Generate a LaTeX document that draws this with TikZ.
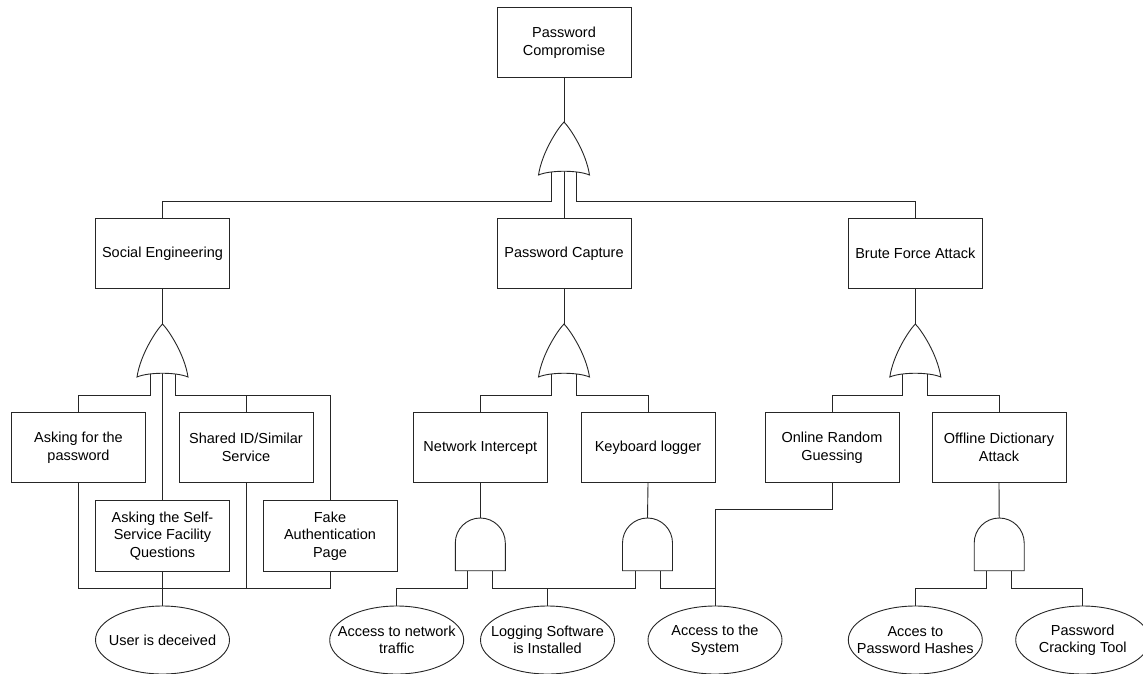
\documentclass[tikz,border=0pt]{standalone}
\usepackage{fontspec}
\setmainfont{Liberation Sans}
\usetikzlibrary{shapes.geometric,calc}
\newcommand\diagfont{\fontsize{14.5}{17.5}\selectfont}
\tikzset{
  conn/.style={line width=0.9pt, black!85},
  gate/.style={line width=0.9pt, draw=black!85, fill=white},
  evbox/.style={draw=black!85, line width=0.9pt, rectangle, minimum width=134pt, minimum height=70.5pt, inner sep=0pt, align=center, font=\diagfont},
  basic/.style={draw=black!85, line width=0.9pt, ellipse, minimum width=134pt, minimum height=68pt, inner xsep=-30pt, inner ysep=0pt, align=center, font=\diagfont},
  orgate/.pic={\draw[gate] (0,0) .. controls (-6,6) and (-22,30) .. (-25.5,53) .. controls (-14,48) and (14,48) .. (25.5,53) .. controls (22,30) and (6,6) .. (0,0) -- cycle;},
  andgate/.pic={\draw[gate] (-25,52.7) -- (-25,25) .. controls (-25,11.2) and (-13.8,0) .. (0,0) .. controls (13.8,0) and (25,11.2) .. (25,25) -- (25,52.7) -- cycle;}
}
\begin{document}
\begin{tikzpicture}[x=1pt,y=-1pt]
\useasboundingbox (0,0) rectangle (1143,673);
\clip (0,0) rectangle (1143,673);
\fill[white] (0,0) rectangle (1143,673);

% events
\node[evbox] (top) at (564,42.5) {Password\\Compromise};
\node[evbox] (soc) at (162.5,253.5) {Social Engineering};
\node[evbox] (cap) at (564,253.5) {Password Capture};
\node[evbox] (bru) at (915.3,253.5) {Brute Force Attack};
\node[evbox] (ask) at (78.5,447.5) {Asking for the\\password};
\node[evbox] (shared) at (246,447.5) {Shared ID/Similar\\Service};
\node[evbox] (self) at (162.5,536) {Asking the Self-\\Service Facility\\Questions};
\node[evbox] (fake) at (330,536) {Fake\\Authentication\\Page};
\node[evbox] (net) at (480.3,447.5) {Network Intercept};
\node[evbox] (key) at (648,447.5) {Keyboard logger};
\node[evbox] (online) at (832,447.5) {Online Random\\Guessing};
\node[evbox] (offline) at (999,447.5) {Offline Dictionary\\Attack};

% basic events
\node[basic] (user) at (162.5,640) {User is deceived};
\node[basic] (nett) at (396.7,640) {Access to network\\traffic};
\node[basic] (log) at (547.5,640) {Logging Software\\is Installed};
\node[basic] (sys) at (715,640) {Access to the\\System};
\node[basic] (hash) at (915.3,640) {Acces to\\Password Hashes};
\node[basic] (tool) at (1082.7,640) {Password\\Cracking Tool};

% gate coordinates
\coordinate (oT) at (564,122);
\coordinate (oTl) at (551.5,172);
\coordinate (oTc) at (564,171);
\coordinate (oTr) at (576.5,172);
\coordinate (oS) at (162.5,324);
\coordinate (oSl) at (150,374);
\coordinate (oSc) at (162.5,373);
\coordinate (oSr) at (175,374);
\coordinate (oC) at (564,324);
\coordinate (oCl) at (551.5,374);
\coordinate (oCr) at (576.5,374);
\coordinate (oB) at (915.3,324);
\coordinate (oBl) at (902.8,374);
\coordinate (oBr) at (927.8,374);
\coordinate (aN) at (480.3,518);
\coordinate (aNl) at (467.8,570.7);
\coordinate (aNr) at (492.8,570.7);
\coordinate (aK) at (647.5,518);
\coordinate (aKl) at (635,570.7);
\coordinate (aKr) at (660,570.7);
\coordinate (aO) at (999.2,518);
\coordinate (aOl) at (986.7,570.7);
\coordinate (aOr) at (1011.7,570.7);
\coordinate (uB) at (162.5,588);

% connectors
\draw[conn] (top.south) -- (oT);
\draw[conn] (oTl) -- ++(0,29) -| (soc.north);
\draw[conn] (oTc) -- (cap.north);
\draw[conn] (oTr) -- ++(0,29) -| (bru.north);

\draw[conn] (soc.south) -- (oS);
\draw[conn] (oSl) -- ++(0,21) -| (ask.north);
\draw[conn] (oSc) -- (self.north);
\draw[conn] (oSr) -- ++(0,21) -| (shared.north);
\draw[conn] (oSr) -- ++(0,21) -| (fake.north);
\draw[conn] (ask.south) |- (uB) -- (user.north);
\draw[conn] (fake.south) |- (uB);
\draw[conn] (shared.south) -- (shared.south |- uB);
\draw[conn] (self.south) -- (uB);

\draw[conn] (cap.south) -- (oC);
\draw[conn] (oCl) -- ++(0,21) -| (net.north);
\draw[conn] (oCr) -- ++(0,21) -| (key.north);
\draw[conn] (net.south) -- (aN);
\draw[conn] (key.south) -- (aK);
\draw[conn] (aNl) -- ++(0,17.3) -| (nett.north);
\draw[conn] (aNr) -- ++(0,17.3) -| (log.north);
\draw[conn] (aKl) -- ++(0,17.3) -| (log.north);
\draw[conn] (aKr) -- ++(0,17.3) -| (sys.north);
\draw[conn] (online.south) -- ++(0,26) -| (sys.north);

\draw[conn] (bru.south) -- (oB);
\draw[conn] (oBl) -- ++(0,21) -| (online.north);
\draw[conn] (oBr) -- ++(0,21) -| (offline.north);
\draw[conn] (offline.south) -- (aO);
\draw[conn] (aOl) -- ++(0,17.3) -| (hash.north);
\draw[conn] (aOr) -- ++(0,17.3) -| (tool.north);

% gates
\pic at (oT) {orgate};
\pic at (oS) {orgate};
\pic at (oC) {orgate};
\pic at (oB) {orgate};
\pic at (aN) {andgate};
\pic at (aK) {andgate};
\pic at (aO) {andgate};
\end{tikzpicture}
\end{document}
